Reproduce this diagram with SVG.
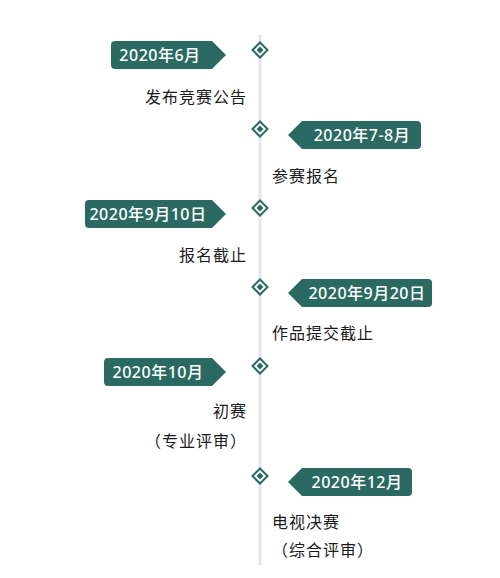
<svg xmlns="http://www.w3.org/2000/svg" width="500" height="578" viewBox="0 0 500 578">
<style>
.tag{fill:#2b6a63}
.tt{font-family:"Noto Sans","Noto Sans CJK SC",sans-serif;font-size:16px;font-weight:500;fill:#ffffff;text-anchor:middle;letter-spacing:0.5px}
.lb{font-family:"Noto Sans CJK SC",sans-serif;font-size:16px;fill:#1a1a1a;letter-spacing:1px}
.r{text-anchor:end}
.dm{fill:#ffffff;stroke:#2b6a63;stroke-width:2}
.di{fill:#2b6a63}
</style>
<defs>
<g id="dia"><path class="dm" d="M0,-7.5 L7.5,0 L0,7.5 L-7.5,0 Z"/><path class="di" d="M0,-3.5 L3.5,0 L0,3.5 L-3.5,0 Z"/></g>
</defs>
<g id="connectors">
<line x1="260" y1="35" x2="260" y2="565" stroke="#e4e4f0" stroke-width="3"/>
</g>
<g id="n1">
<use href="#dia" x="260" y="50"/>
<path class="tag" d="M115,41 H212 L226,55 L212,69 H115 Q111,69 111,65 V45 Q111,41 115,41 Z"/>
<text class="tt" x="160" y="61">2020年6月</text>
<text class="lb r" x="247" y="103">发布竞赛公告</text>
</g>
<g id="n2">
<use href="#dia" x="260" y="129"/>
<path class="tag" d="M417,121 H302 L288,135 L302,149 H417 Q421,149 421,145 V125 Q421,121 417,121 Z"/>
<text class="tt" x="362" y="141">2020年7-8月</text>
<text class="lb" x="272" y="182">参赛报名</text>
</g>
<g id="n3">
<use href="#dia" x="260" y="208"/>
<path class="tag" d="M89,200 H212 L226,214 L212,228 H89 Q85,228 85,224 V204 Q85,200 89,200 Z"/>
<text class="tt" x="148" y="220">2020年9月10日</text>
<text class="lb r" x="247" y="261">报名截止</text>
</g>
<g id="n4">
<use href="#dia" x="260" y="287"/>
<path class="tag" d="M428,279 H302 L288,293 L302,307 H428 Q432,307 432,303 V283 Q432,279 428,279 Z"/>
<text class="tt" x="367" y="299">2020年9月20日</text>
<text class="lb" x="272" y="339">作品提交截止</text>
</g>
<g id="n5">
<use href="#dia" x="260" y="366"/>
<path class="tag" d="M108,358 H212 L226,372 L212,386 H108 Q104,386 104,382 V362 Q104,358 108,358 Z"/>
<text class="tt" x="158" y="378">2020年10月</text>
<text class="lb r" x="247" y="417">初赛</text>
<text class="lb r" x="247" y="447">（专业评审）</text>
</g>
<g id="n6">
<use href="#dia" x="260" y="476"/>
<path class="tag" d="M408,468 H302 L288,482 L302,496 H408 Q412,496 412,492 V472 Q412,468 408,468 Z"/>
<text class="tt" x="357" y="488">2020年12月</text>
<text class="lb" x="272" y="528">电视决赛</text>
<text class="lb" x="272" y="556">（综合评审）</text>
</g>
</svg>
